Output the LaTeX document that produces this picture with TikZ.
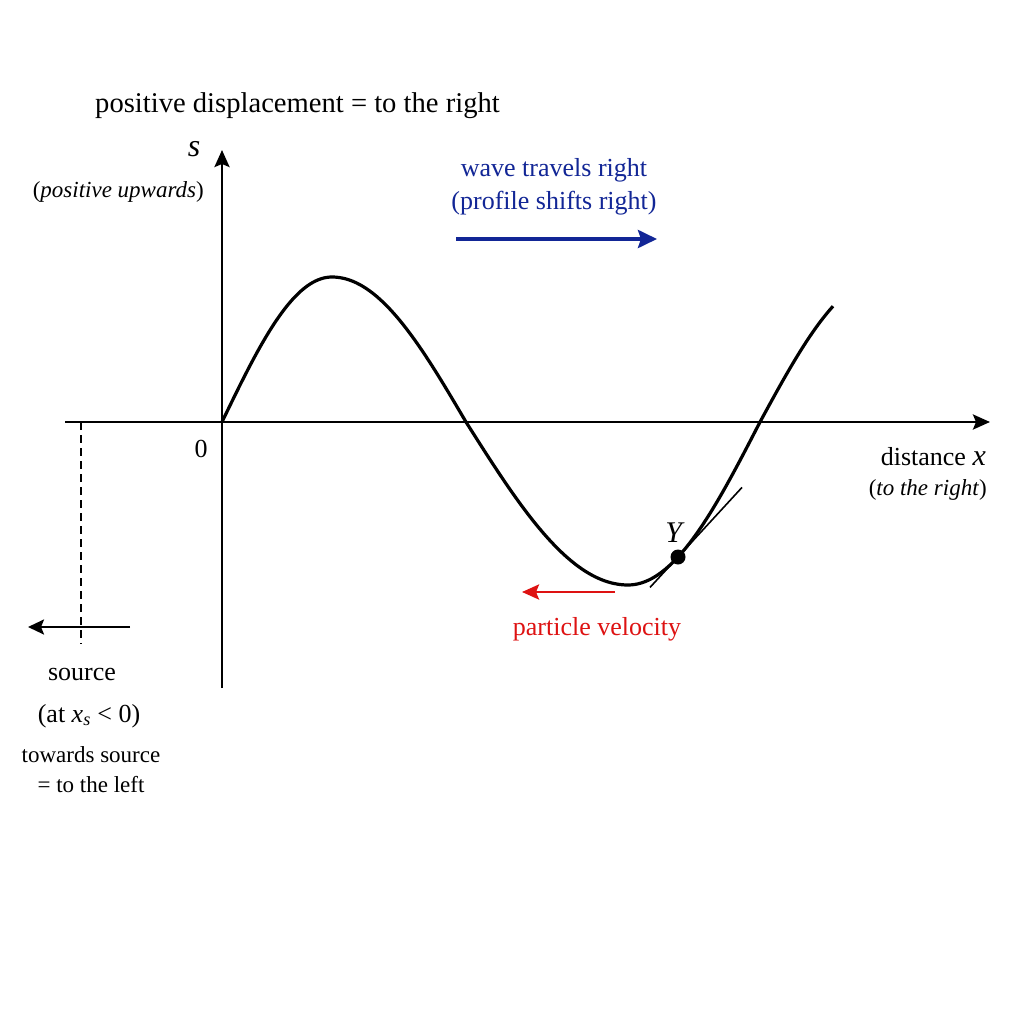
\documentclass[tikz,border=0pt]{standalone}
\usepackage{fontspec}
\setmainfont{Liberation Serif}
\usetikzlibrary{arrows.meta}
\definecolor{wblue}{RGB}{18,38,150}
\definecolor{wred}{RGB}{222,18,18}
\tikzset{
  axisline/.style={line width=2.7pt, black},
  waveline/.style={line width=3.2pt, black, line join=round},
  tip/.style={-{Stealth[length=17pt,width=15pt,inset=3pt]}},
  lbl/.style={inner sep=0pt, font=\fontsize{26}{30}\selectfont},
  small/.style={inner sep=0pt, font=\fontsize{23}{27}\selectfont},
}
\begin{document}
\begin{tikzpicture}[x=1pt,y=-1pt]
\fill[white] (0,0) rectangle (1024,1024);
\useasboundingbox (0,0) rectangle (1024,1024);

% axes
\coordinate (O) at (222,422);
\coordinate (xstart) at (65,422);
\coordinate (xend) at (990,422);
\coordinate (ybot) at (222,688);
\coordinate (ytop) at (222,150);
\draw[axisline, tip] (xstart) -- (xend);
\draw[axisline, tip] (ybot) -- (ytop);

% wave
\draw[waveline]
  plot[domain=222:332, samples=40] (\x, {422-145*sin(90*(\x-222)/110)})
  -- plot[domain=332:466, samples=40] (\x, {422-145*cos(90*(\x-332)/134)})
  -- plot[domain=466:628, samples=50] (\x, {422+163*sin(90*(\x-466)/162)})
  -- plot[domain=628:760, samples=40] (\x, {422+163*cos(90*(\x-628)/132)})
  -- plot[domain=760:833, samples=25] (\x, {422-145*sin(90*(\x-760)/124)});

% point Y and tangent
\coordinate (Y) at (678,557);
\coordinate (tanA) at (650,587.4);
\coordinate (tanB) at (742,487.4);
\draw[line width=1.6pt] (tanA) -- (tanB);
\fill (Y) circle (7.5pt);
\node[inner sep=0pt, font=\fontsize{30}{34}\selectfont, anchor=base] (ylab) at (675,542) {\textit{Y}};

% source marker
\coordinate (srcTop) at (81,422);
\coordinate (srcBot) at (81,644);
\draw[line width=1.5pt, dash pattern=on 8pt off 5pt] (srcTop) -- (srcBot);
\coordinate (laR) at (130,627);
\coordinate (laL) at (28,627);
\draw[line width=2.5pt, -{Stealth[length=16pt,width=15pt,inset=3pt]}] (laR) -- (laL);

% wave travel arrow
\coordinate (baL) at (456,239);
\coordinate (baR) at (657,239);
\draw[wblue, line width=3.8pt, -{Stealth[length=19pt,width=18pt,inset=3pt]}] (baL) -- (baR);

% particle velocity arrow
\coordinate (raR) at (615,592);
\coordinate (raL) at (522,592);
\draw[wred, line width=2.8pt, -{Stealth[length=17pt,width=15pt,inset=3pt]}] (raR) -- (raL);

% texts
\node[inner sep=0pt, font=\fontsize{28.6}{32}\selectfont, anchor=base west] (top) at (95,113) {positive displacement = to the right};
\node[inner sep=0pt, font=\fontsize{32}{36}\selectfont, anchor=base] (slab) at (194,157) {\textit{s}};
\node[small, anchor=base east] (pu) at (204,198) {(\textit{positive upwards})};
\node[lbl, anchor=base] (zero) at (201,457) {0};
\node[lbl, anchor=base east] (dist) at (986,465) {distance \textit{\fontsize{30}{34}\selectfont x}};
\node[small, anchor=base east] (ttr) at (987,495) {(\textit{to the right})};
\node[lbl, wblue, anchor=base] (wt1) at (554,177) {wave travels right};
\node[lbl, wblue, anchor=base] (wt2) at (554,210) {(profile shifts right)};
\node[lbl, wred, anchor=base] (pv) at (597,635) {particle velocity};
\node[lbl, anchor=base] (src) at (82,680) {source};
\node[lbl, anchor=base] (srcat) at (89,722) {(at \textit{x}\textsubscript{\textit{s}} < 0)};
\node[small, anchor=base] (tw1) at (91,762) {towards source};
\node[small, anchor=base] (tw2) at (91,792) {= to the left};
\end{tikzpicture}
\end{document}
